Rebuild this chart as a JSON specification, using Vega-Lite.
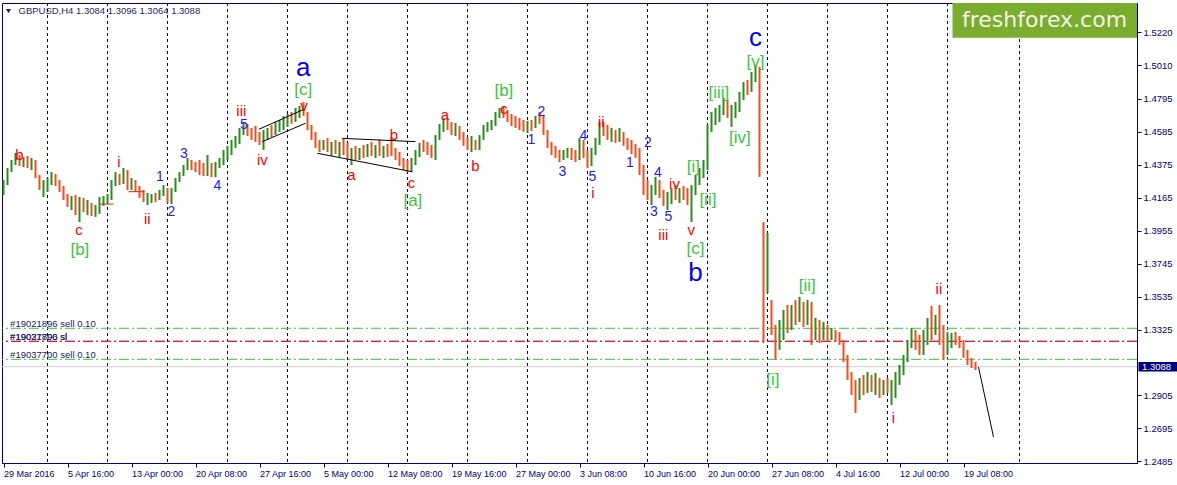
{
  "$schema": "https://vega.github.io/schema/vega-lite/v6.json",
  "width": 1135,
  "height": 460,
  "autosize": "none",
  "padding": {"left": 2, "top": 3, "right": 40, "bottom": 22},
  "background": "white",
  "config": {
    "view": {"stroke": "#000080", "strokeWidth": 1},
    "text": {"font": "Liberation Sans"},
    "axis": {"labelFont": "Liberation Sans"}
  },
  "resolve": {
    "scale": {"color": "independent", "strokeDash": "independent"},
    "axis": {"x": "independent", "y": "independent"}
  },
  "datasets": {
    "bars": [
      {"t":0,"o":1.4202,"h":1.4278,"l":1.4183,"c":1.4259},
      {"t":2,"o":1.4259,"h":1.4355,"l":1.4246,"c":1.4342},
      {"t":4,"o":1.4342,"h":1.4406,"l":1.4329,"c":1.4387},
      {"t":6,"o":1.4387,"h":1.4451,"l":1.4374,"c":1.4425},
      {"t":8,"o":1.4425,"h":1.4438,"l":1.4368,"c":1.4393},
      {"t":10,"o":1.4393,"h":1.4425,"l":1.4361,"c":1.4406},
      {"t":12,"o":1.4406,"h":1.4432,"l":1.4355,"c":1.4374},
      {"t":14,"o":1.4374,"h":1.4419,"l":1.4342,"c":1.4393},
      {"t":16,"o":1.4393,"h":1.4406,"l":1.4291,"c":1.4304},
      {"t":18,"o":1.4304,"h":1.4310,"l":1.4215,"c":1.4227},
      {"t":20,"o":1.4227,"h":1.4278,"l":1.4170,"c":1.4246},
      {"t":22,"o":1.4246,"h":1.4291,"l":1.4202,"c":1.4266},
      {"t":24,"o":1.4266,"h":1.4329,"l":1.4246,"c":1.4310},
      {"t":26,"o":1.4310,"h":1.4317,"l":1.4240,"c":1.4259},
      {"t":28,"o":1.4259,"h":1.4278,"l":1.4202,"c":1.4215},
      {"t":30,"o":1.4215,"h":1.4240,"l":1.4151,"c":1.4170},
      {"t":32,"o":1.4170,"h":1.4189,"l":1.4106,"c":1.4132},
      {"t":34,"o":1.4132,"h":1.4176,"l":1.4087,"c":1.4157},
      {"t":36,"o":1.4157,"h":1.4183,"l":1.4055,"c":1.4074},
      {"t":38,"o":1.4074,"h":1.4170,"l":1.4011,"c":1.4119},
      {"t":40,"o":1.4119,"h":1.4164,"l":1.4074,"c":1.4087},
      {"t":42,"o":1.4087,"h":1.4151,"l":1.4055,"c":1.4132},
      {"t":44,"o":1.4132,"h":1.4132,"l":1.4049,"c":1.4062},
      {"t":46,"o":1.4062,"h":1.4119,"l":1.4043,"c":1.4087},
      {"t":48,"o":1.4087,"h":1.4170,"l":1.4062,"c":1.4151},
      {"t":50,"o":1.4151,"h":1.4176,"l":1.4113,"c":1.4157},
      {"t":52,"o":1.4157,"h":1.4189,"l":1.4125,"c":1.4170},
      {"t":54,"o":1.4170,"h":1.4278,"l":1.4151,"c":1.4259},
      {"t":56,"o":1.4259,"h":1.4329,"l":1.4240,"c":1.4304},
      {"t":58,"o":1.4304,"h":1.4317,"l":1.4246,"c":1.4272},
      {"t":60,"o":1.4272,"h":1.4355,"l":1.4253,"c":1.4329},
      {"t":62,"o":1.4329,"h":1.4342,"l":1.4215,"c":1.4240},
      {"t":64,"o":1.4240,"h":1.4291,"l":1.4215,"c":1.4266},
      {"t":66,"o":1.4266,"h":1.4278,"l":1.4202,"c":1.4215},
      {"t":68,"o":1.4215,"h":1.4240,"l":1.4164,"c":1.4196},
      {"t":70,"o":1.4196,"h":1.4215,"l":1.4138,"c":1.4151},
      {"t":72,"o":1.4151,"h":1.4196,"l":1.4119,"c":1.4164},
      {"t":74,"o":1.4164,"h":1.4189,"l":1.4132,"c":1.4176},
      {"t":76,"o":1.4176,"h":1.4196,"l":1.4138,"c":1.4157},
      {"t":78,"o":1.4157,"h":1.4215,"l":1.4151,"c":1.4202},
      {"t":80,"o":1.4202,"h":1.4246,"l":1.4176,"c":1.4227},
      {"t":82,"o":1.4227,"h":1.4227,"l":1.4132,"c":1.4151},
      {"t":84,"o":1.4151,"h":1.4227,"l":1.4125,"c":1.4215},
      {"t":86,"o":1.4215,"h":1.4291,"l":1.4202,"c":1.4278},
      {"t":88,"o":1.4278,"h":1.4329,"l":1.4266,"c":1.4317},
      {"t":90,"o":1.4317,"h":1.4374,"l":1.4304,"c":1.4361},
      {"t":92,"o":1.4361,"h":1.4419,"l":1.4342,"c":1.4387},
      {"t":94,"o":1.4387,"h":1.4406,"l":1.4342,"c":1.4368},
      {"t":96,"o":1.4368,"h":1.4393,"l":1.4329,"c":1.4355},
      {"t":98,"o":1.4355,"h":1.4406,"l":1.4310,"c":1.4342},
      {"t":100,"o":1.4342,"h":1.4387,"l":1.4304,"c":1.4323},
      {"t":102,"o":1.4323,"h":1.4438,"l":1.4304,"c":1.4342},
      {"t":104,"o":1.4342,"h":1.4387,"l":1.4297,"c":1.4310},
      {"t":106,"o":1.4310,"h":1.4393,"l":1.4297,"c":1.4374},
      {"t":108,"o":1.4374,"h":1.4419,"l":1.4355,"c":1.4406},
      {"t":110,"o":1.4406,"h":1.4470,"l":1.4374,"c":1.4438},
      {"t":112,"o":1.4438,"h":1.4496,"l":1.4406,"c":1.4470},
      {"t":114,"o":1.4470,"h":1.4534,"l":1.4438,"c":1.4515},
      {"t":116,"o":1.4515,"h":1.4559,"l":1.4483,"c":1.4534},
      {"t":118,"o":1.4534,"h":1.4610,"l":1.4508,"c":1.4585},
      {"t":120,"o":1.4585,"h":1.4648,"l":1.4565,"c":1.4623},
      {"t":122,"o":1.4623,"h":1.4636,"l":1.4559,"c":1.4585},
      {"t":124,"o":1.4585,"h":1.4610,"l":1.4534,"c":1.4572},
      {"t":126,"o":1.4572,"h":1.4623,"l":1.4521,"c":1.4546},
      {"t":128,"o":1.4546,"h":1.4585,"l":1.4502,"c":1.4534},
      {"t":130,"o":1.4534,"h":1.4597,"l":1.4470,"c":1.4565},
      {"t":132,"o":1.4565,"h":1.4610,"l":1.4534,"c":1.4597},
      {"t":134,"o":1.4597,"h":1.4629,"l":1.4553,"c":1.4578},
      {"t":136,"o":1.4578,"h":1.4648,"l":1.4565,"c":1.4623},
      {"t":138,"o":1.4623,"h":1.4661,"l":1.4585,"c":1.4636},
      {"t":140,"o":1.4636,"h":1.4687,"l":1.4597,"c":1.4661},
      {"t":142,"o":1.4661,"h":1.4699,"l":1.4617,"c":1.4674},
      {"t":144,"o":1.4674,"h":1.4712,"l":1.4636,"c":1.4661},
      {"t":146,"o":1.4661,"h":1.4738,"l":1.4648,"c":1.4712},
      {"t":148,"o":1.4712,"h":1.4750,"l":1.4674,"c":1.4725},
      {"t":150,"o":1.4725,"h":1.4776,"l":1.4687,"c":1.4699},
      {"t":152,"o":1.4699,"h":1.4712,"l":1.4597,"c":1.4617},
      {"t":154,"o":1.4617,"h":1.4629,"l":1.4534,"c":1.4553},
      {"t":156,"o":1.4553,"h":1.4585,"l":1.4483,"c":1.4502},
      {"t":158,"o":1.4502,"h":1.4534,"l":1.4457,"c":1.4483},
      {"t":160,"o":1.4483,"h":1.4534,"l":1.4470,"c":1.4515},
      {"t":162,"o":1.4515,"h":1.4546,"l":1.4457,"c":1.4470},
      {"t":164,"o":1.4470,"h":1.4521,"l":1.4432,"c":1.4496},
      {"t":166,"o":1.4496,"h":1.4534,"l":1.4444,"c":1.4464},
      {"t":168,"o":1.4464,"h":1.4521,"l":1.4425,"c":1.4483},
      {"t":170,"o":1.4483,"h":1.4546,"l":1.4438,"c":1.4457},
      {"t":172,"o":1.4457,"h":1.4515,"l":1.4406,"c":1.4432},
      {"t":174,"o":1.4432,"h":1.4483,"l":1.4374,"c":1.4457},
      {"t":176,"o":1.4457,"h":1.4496,"l":1.4406,"c":1.4425},
      {"t":178,"o":1.4425,"h":1.4483,"l":1.4406,"c":1.4470},
      {"t":180,"o":1.4470,"h":1.4502,"l":1.4419,"c":1.4438},
      {"t":182,"o":1.4438,"h":1.4508,"l":1.4425,"c":1.4483},
      {"t":184,"o":1.4483,"h":1.4521,"l":1.4432,"c":1.4457},
      {"t":186,"o":1.4457,"h":1.4502,"l":1.4419,"c":1.4470},
      {"t":188,"o":1.4470,"h":1.4534,"l":1.4432,"c":1.4451},
      {"t":190,"o":1.4451,"h":1.4496,"l":1.4419,"c":1.4476},
      {"t":192,"o":1.4476,"h":1.4508,"l":1.4425,"c":1.4457},
      {"t":194,"o":1.4457,"h":1.4553,"l":1.4432,"c":1.4444},
      {"t":196,"o":1.4444,"h":1.4483,"l":1.4406,"c":1.4419},
      {"t":198,"o":1.4419,"h":1.4457,"l":1.4368,"c":1.4387},
      {"t":200,"o":1.4387,"h":1.4419,"l":1.4342,"c":1.4368},
      {"t":202,"o":1.4368,"h":1.4406,"l":1.4329,"c":1.4349},
      {"t":204,"o":1.4349,"h":1.4419,"l":1.4329,"c":1.4406},
      {"t":206,"o":1.4406,"h":1.4470,"l":1.4374,"c":1.4451},
      {"t":208,"o":1.4451,"h":1.4515,"l":1.4425,"c":1.4496},
      {"t":210,"o":1.4496,"h":1.4534,"l":1.4457,"c":1.4483},
      {"t":212,"o":1.4483,"h":1.4521,"l":1.4438,"c":1.4470},
      {"t":214,"o":1.4470,"h":1.4502,"l":1.4419,"c":1.4444},
      {"t":216,"o":1.4444,"h":1.4565,"l":1.4406,"c":1.4546},
      {"t":218,"o":1.4546,"h":1.4636,"l":1.4534,"c":1.4610},
      {"t":220,"o":1.4610,"h":1.4674,"l":1.4585,"c":1.4648},
      {"t":222,"o":1.4648,"h":1.4674,"l":1.4597,"c":1.4623},
      {"t":224,"o":1.4623,"h":1.4648,"l":1.4565,"c":1.4597},
      {"t":226,"o":1.4597,"h":1.4642,"l":1.4559,"c":1.4610},
      {"t":228,"o":1.4610,"h":1.4623,"l":1.4534,"c":1.4559},
      {"t":230,"o":1.4559,"h":1.4585,"l":1.4496,"c":1.4521},
      {"t":232,"o":1.4521,"h":1.4546,"l":1.4470,"c":1.4496},
      {"t":234,"o":1.4496,"h":1.4559,"l":1.4457,"c":1.4508},
      {"t":236,"o":1.4508,"h":1.4534,"l":1.4470,"c":1.4489},
      {"t":238,"o":1.4489,"h":1.4565,"l":1.4470,"c":1.4546},
      {"t":240,"o":1.4546,"h":1.4629,"l":1.4534,"c":1.4610},
      {"t":242,"o":1.4610,"h":1.4648,"l":1.4585,"c":1.4623},
      {"t":244,"o":1.4623,"h":1.4661,"l":1.4597,"c":1.4636},
      {"t":246,"o":1.4636,"h":1.4712,"l":1.4623,"c":1.4693},
      {"t":248,"o":1.4693,"h":1.4738,"l":1.4674,"c":1.4712},
      {"t":250,"o":1.4712,"h":1.4750,"l":1.4674,"c":1.4699},
      {"t":252,"o":1.4699,"h":1.4725,"l":1.4648,"c":1.4674},
      {"t":254,"o":1.4674,"h":1.4699,"l":1.4623,"c":1.4661},
      {"t":256,"o":1.4661,"h":1.4687,"l":1.4610,"c":1.4636},
      {"t":258,"o":1.4636,"h":1.4674,"l":1.4597,"c":1.4623},
      {"t":260,"o":1.4623,"h":1.4661,"l":1.4585,"c":1.4610},
      {"t":262,"o":1.4610,"h":1.4655,"l":1.4578,"c":1.4629},
      {"t":264,"o":1.4629,"h":1.4661,"l":1.4591,"c":1.4610},
      {"t":266,"o":1.4610,"h":1.4687,"l":1.4610,"c":1.4674},
      {"t":268,"o":1.4674,"h":1.4712,"l":1.4636,"c":1.4661},
      {"t":270,"o":1.4661,"h":1.4693,"l":1.4565,"c":1.4585},
      {"t":272,"o":1.4585,"h":1.4597,"l":1.4483,"c":1.4502},
      {"t":274,"o":1.4502,"h":1.4521,"l":1.4438,"c":1.4470},
      {"t":276,"o":1.4470,"h":1.4496,"l":1.4419,"c":1.4438},
      {"t":278,"o":1.4438,"h":1.4470,"l":1.4393,"c":1.4425},
      {"t":280,"o":1.4425,"h":1.4470,"l":1.4406,"c":1.4451},
      {"t":282,"o":1.4451,"h":1.4483,"l":1.4419,"c":1.4457},
      {"t":284,"o":1.4457,"h":1.4483,"l":1.4406,"c":1.4432},
      {"t":286,"o":1.4432,"h":1.4470,"l":1.4393,"c":1.4419},
      {"t":288,"o":1.4419,"h":1.4546,"l":1.4406,"c":1.4502},
      {"t":290,"o":1.4502,"h":1.4534,"l":1.4419,"c":1.4438},
      {"t":292,"o":1.4438,"h":1.4470,"l":1.4355,"c":1.4406},
      {"t":294,"o":1.4406,"h":1.4483,"l":1.4368,"c":1.4457},
      {"t":296,"o":1.4457,"h":1.4546,"l":1.4438,"c":1.4521},
      {"t":298,"o":1.4521,"h":1.4648,"l":1.4502,"c":1.4610},
      {"t":300,"o":1.4610,"h":1.4648,"l":1.4559,"c":1.4597},
      {"t":302,"o":1.4597,"h":1.4629,"l":1.4534,"c":1.4559},
      {"t":304,"o":1.4559,"h":1.4610,"l":1.4521,"c":1.4572},
      {"t":306,"o":1.4572,"h":1.4597,"l":1.4515,"c":1.4546},
      {"t":308,"o":1.4546,"h":1.4610,"l":1.4521,"c":1.4578},
      {"t":310,"o":1.4578,"h":1.4585,"l":1.4496,"c":1.4515},
      {"t":312,"o":1.4515,"h":1.4546,"l":1.4470,"c":1.4496},
      {"t":314,"o":1.4496,"h":1.4534,"l":1.4444,"c":1.4470},
      {"t":316,"o":1.4470,"h":1.4508,"l":1.4419,"c":1.4444},
      {"t":318,"o":1.4444,"h":1.4483,"l":1.4310,"c":1.4342},
      {"t":320,"o":1.4342,"h":1.4374,"l":1.4183,"c":1.4215},
      {"t":322,"o":1.4215,"h":1.4278,"l":1.4151,"c":1.4183},
      {"t":324,"o":1.4183,"h":1.4246,"l":1.4119,"c":1.4215},
      {"t":326,"o":1.4215,"h":1.4298,"l":1.4183,"c":1.4253},
      {"t":328,"o":1.4253,"h":1.4278,"l":1.4164,"c":1.4183},
      {"t":330,"o":1.4183,"h":1.4215,"l":1.4113,"c":1.4151},
      {"t":332,"o":1.4151,"h":1.4202,"l":1.4087,"c":1.4176},
      {"t":334,"o":1.4176,"h":1.4227,"l":1.4125,"c":1.4202},
      {"t":336,"o":1.4202,"h":1.4246,"l":1.4151,"c":1.4183},
      {"t":338,"o":1.4183,"h":1.4227,"l":1.4132,"c":1.4215},
      {"t":340,"o":1.4215,"h":1.4240,"l":1.4151,"c":1.4189},
      {"t":342,"o":1.4189,"h":1.4227,"l":1.4119,"c":1.4164},
      {"t":344,"o":1.4164,"h":1.4246,"l":1.4011,"c":1.4215},
      {"t":346,"o":1.4215,"h":1.4310,"l":1.4183,"c":1.4278},
      {"t":348,"o":1.4278,"h":1.4355,"l":1.4246,"c":1.4329},
      {"t":350,"o":1.4329,"h":1.4406,"l":1.4291,"c":1.4374},
      {"t":352,"o":1.4374,"h":1.4629,"l":1.4342,"c":1.4597},
      {"t":354,"o":1.4597,"h":1.4712,"l":1.4585,"c":1.4674},
      {"t":356,"o":1.4674,"h":1.4738,"l":1.4629,"c":1.4693},
      {"t":358,"o":1.4693,"h":1.4757,"l":1.4648,"c":1.4725},
      {"t":360,"o":1.4725,"h":1.4801,"l":1.4693,"c":1.4763},
      {"t":362,"o":1.4763,"h":1.4788,"l":1.4674,"c":1.4693},
      {"t":364,"o":1.4693,"h":1.4757,"l":1.4617,"c":1.4725},
      {"t":366,"o":1.4725,"h":1.4776,"l":1.4674,"c":1.4750},
      {"t":368,"o":1.4750,"h":1.4840,"l":1.4712,"c":1.4820},
      {"t":370,"o":1.4820,"h":1.4903,"l":1.4788,"c":1.4865},
      {"t":372,"o":1.4865,"h":1.4916,"l":1.4820,"c":1.4852},
      {"t":374,"o":1.4852,"h":1.4967,"l":1.4840,"c":1.4929},
      {"t":376,"o":1.4929,"h":1.5012,"l":1.4903,"c":1.4967},
      {"t":378,"o":1.4967,"h":1.5000,"l":1.4298,"c":1.4310},
      {"t":380,"o":1.3991,"h":1.4011,"l":1.3239,"c":1.3450},
      {"t":382,"o":1.3620,"h":1.3941,"l":1.3558,"c":1.3800},
      {"t":384,"o":1.3468,"h":1.3513,"l":1.3290,"c":1.3335},
      {"t":386,"o":1.3335,"h":1.3354,"l":1.3131,"c":1.3195},
      {"t":388,"o":1.3195,"h":1.3386,"l":1.3195,"c":1.3354},
      {"t":390,"o":1.3354,"h":1.3450,"l":1.3258,"c":1.3399},
      {"t":392,"o":1.3399,"h":1.3482,"l":1.3303,"c":1.3354},
      {"t":394,"o":1.3354,"h":1.3482,"l":1.3322,"c":1.3450},
      {"t":396,"o":1.3450,"h":1.3513,"l":1.3354,"c":1.3418},
      {"t":398,"o":1.3418,"h":1.3533,"l":1.3373,"c":1.3482},
      {"t":400,"o":1.3482,"h":1.3501,"l":1.3341,"c":1.3399},
      {"t":402,"o":1.3399,"h":1.3513,"l":1.3354,"c":1.3463},
      {"t":404,"o":1.3463,"h":1.3501,"l":1.3227,"c":1.3258},
      {"t":406,"o":1.3258,"h":1.3399,"l":1.3258,"c":1.3354},
      {"t":408,"o":1.3354,"h":1.3386,"l":1.3239,"c":1.3290},
      {"t":410,"o":1.3290,"h":1.3373,"l":1.3258,"c":1.3335},
      {"t":412,"o":1.3335,"h":1.3354,"l":1.3246,"c":1.3290},
      {"t":414,"o":1.3290,"h":1.3335,"l":1.3258,"c":1.3309},
      {"t":416,"o":1.3309,"h":1.3322,"l":1.3246,"c":1.3271},
      {"t":418,"o":1.3271,"h":1.3309,"l":1.3227,"c":1.3246},
      {"t":420,"o":1.3246,"h":1.3258,"l":1.3118,"c":1.3144},
      {"t":422,"o":1.3144,"h":1.3163,"l":1.3003,"c":1.3035},
      {"t":424,"o":1.3035,"h":1.3054,"l":1.2908,"c":1.2972},
      {"t":426,"o":1.2972,"h":1.3003,"l":1.2793,"c":1.2908},
      {"t":428,"o":1.2908,"h":1.3016,"l":1.2876,"c":1.2972},
      {"t":430,"o":1.2972,"h":1.3035,"l":1.2908,"c":1.2940},
      {"t":432,"o":1.2940,"h":1.3054,"l":1.2921,"c":1.3003},
      {"t":434,"o":1.3003,"h":1.3035,"l":1.2927,"c":1.2965},
      {"t":436,"o":1.2965,"h":1.3048,"l":1.2908,"c":1.2984},
      {"t":438,"o":1.2984,"h":1.3016,"l":1.2889,"c":1.2940},
      {"t":440,"o":1.2940,"h":1.3003,"l":1.2908,"c":1.2972},
      {"t":442,"o":1.2972,"h":1.3016,"l":1.2921,"c":1.2940},
      {"t":444,"o":1.2940,"h":1.3003,"l":1.2844,"c":1.2972},
      {"t":446,"o":1.2972,"h":1.3054,"l":1.2889,"c":1.3016},
      {"t":448,"o":1.3016,"h":1.3099,"l":1.2972,"c":1.3067},
      {"t":450,"o":1.3067,"h":1.3163,"l":1.3035,"c":1.3131},
      {"t":452,"o":1.3131,"h":1.3258,"l":1.3118,"c":1.3227},
      {"t":454,"o":1.3227,"h":1.3335,"l":1.3207,"c":1.3290},
      {"t":456,"o":1.3290,"h":1.3322,"l":1.3195,"c":1.3227},
      {"t":458,"o":1.3227,"h":1.3290,"l":1.3163,"c":1.3163},
      {"t":460,"o":1.3163,"h":1.3322,"l":1.3163,"c":1.3290},
      {"t":462,"o":1.3290,"h":1.3399,"l":1.3227,"c":1.3373},
      {"t":464,"o":1.3373,"h":1.3476,"l":1.3258,"c":1.3354},
      {"t":466,"o":1.3354,"h":1.3418,"l":1.3290,"c":1.3386},
      {"t":468,"o":1.3386,"h":1.3482,"l":1.3227,"c":1.3322},
      {"t":470,"o":1.3322,"h":1.3354,"l":1.3131,"c":1.3195},
      {"t":472,"o":1.3195,"h":1.3309,"l":1.3163,"c":1.3258},
      {"t":474,"o":1.3258,"h":1.3303,"l":1.3207,"c":1.3271},
      {"t":476,"o":1.3271,"h":1.3309,"l":1.3227,"c":1.3246},
      {"t":478,"o":1.3246,"h":1.3284,"l":1.3207,"c":1.3227},
      {"t":480,"o":1.3227,"h":1.3258,"l":1.3144,"c":1.3163},
      {"t":482,"o":1.3163,"h":1.3195,"l":1.3099,"c":1.3118},
      {"t":484,"o":1.3118,"h":1.3144,"l":1.3080,"c":1.3093},
      {"t":486,"o":1.3093,"h":1.3118,"l":1.3067,"c":1.3088}
    ],
    "labels": [
      {"s":"b","t":8,"p":1.4438,"g":"minor"},
      {"s":"c","t":37.8,"p":1.3960,"g":"minor"},
      {"s":"i","t":57.7,"p":1.4395,"g":"minor"},
      {"s":"ii","t":71.9,"p":1.4028,"g":"minor"},
      {"s":"iii","t":118.9,"p":1.4720,"g":"minor"},
      {"s":"iv","t":129.4,"p":1.4406,"g":"minor"},
      {"s":"v","t":150.2,"p":1.4750,"g":"minor"},
      {"s":"a","t":173.9,"p":1.4310,"g":"minor"},
      {"s":"b","t":195.2,"p":1.4565,"g":"minor"},
      {"s":"c","t":204,"p":1.4261,"g":"minor"},
      {"s":"a","t":220.7,"p":1.4693,"g":"minor"},
      {"s":"b","t":236,"p":1.4368,"g":"minor"},
      {"s":"c","t":250.2,"p":1.4730,"g":"minor"},
      {"s":"i","t":294.7,"p":1.4194,"g":"minor"},
      {"s":"ii","t":298.9,"p":1.4650,"g":"minor"},
      {"s":"iii","t":329.9,"p":1.3930,"g":"minor"},
      {"s":"iv","t":335.5,"p":1.4251,"g":"minor"},
      {"s":"v","t":343.9,"p":1.3958,"g":"minor"},
      {"s":"i","t":444.9,"p":1.2759,"g":"minor"},
      {"s":"ii","t":467.7,"p":1.3584,"g":"minor"},
      {"s":"1","t":78.2,"p":1.4296,"g":"count"},
      {"s":"2","t":84,"p":1.4076,"g":"count"},
      {"s":"3","t":90.2,"p":1.4442,"g":"count"},
      {"s":"4","t":106.9,"p":1.4240,"g":"count"},
      {"s":"5","t":120.2,"p":1.4626,"g":"count"},
      {"s":"1","t":264,"p":1.4533,"g":"count"},
      {"s":"2","t":269,"p":1.4714,"g":"count"},
      {"s":"3","t":279.4,"p":1.4331,"g":"count"},
      {"s":"4","t":289.9,"p":1.4559,"g":"count"},
      {"s":"5","t":294.4,"p":1.4296,"g":"count"},
      {"s":"1","t":313.2,"p":1.4385,"g":"count"},
      {"s":"2","t":322.2,"p":1.4512,"g":"count"},
      {"s":"3","t":325.2,"p":1.4076,"g":"count"},
      {"s":"4","t":327.2,"p":1.4325,"g":"count"},
      {"s":"5","t":332.4,"p":1.4040,"g":"count"},
      {"s":"a","t":149.9,"p":1.4995,"g":"major"},
      {"s":"b","t":346,"p":1.3685,"g":"major"},
      {"s":"c","t":376,"p":1.5182,"g":"major"},
      {"s":"[b]","t":38.2,"p":1.3832,"g":"bracket"},
      {"s":"[c]","t":149.9,"p":1.4852,"g":"bracket"},
      {"s":"[a]","t":204.7,"p":1.4147,"g":"bracket"},
      {"s":"[b]","t":250.2,"p":1.4848,"g":"bracket"},
      {"s":"[i]","t":344.9,"p":1.4363,"g":"bracket"},
      {"s":"[ii]","t":352.2,"p":1.4151,"g":"bracket"},
      {"s":"[c]","t":346,"p":1.3838,"g":"bracket"},
      {"s":"[iii]","t":357.7,"p":1.4831,"g":"bracket"},
      {"s":"[iv]","t":368.2,"p":1.4544,"g":"bracket"},
      {"s":"[v]","t":376,"p":1.5033,"g":"bracket"},
      {"s":"[i]","t":384.7,"p":1.3003,"g":"bracket"},
      {"s":"[ii]","t":401.9,"p":1.3605,"g":"bracket"}
    ],
    "lines": [
      {"id":"ch1","t":127.7,"p":1.4602,"kind":"trend"},
      {"id":"ch1","t":150.2,"p":1.4729,"kind":"trend"},
      {"id":"ch2","t":129.4,"p":1.4523,"kind":"trend"},
      {"id":"ch2","t":151,"p":1.4640,"kind":"trend"},
      {"id":"wd1","t":169.4,"p":1.4544,"kind":"trend"},
      {"id":"wd1","t":206,"p":1.4523,"kind":"trend"},
      {"id":"wd2","t":156.9,"p":1.4449,"kind":"trend"},
      {"id":"wd2","t":204.4,"p":1.4331,"kind":"trend"},
      {"id":"fc","t":487.5,"p":1.3086,"kind":"trend"},
      {"id":"fc","t":495,"p":1.2640,"kind":"trend"},
      {"id":"m1","t":48.5,"p":1.4125,"kind":"mark"},
      {"id":"m1","t":55,"p":1.4125,"kind":"mark"},
      {"id":"m2","t":62.5,"p":1.4204,"kind":"mark"},
      {"id":"m2","t":70.5,"p":1.4204,"kind":"mark"}
    ],
    "orders": [
      {"id":"#19021896 sell 0.10","p":1.3333,"kind":"sell"},
      {"id":"#19021896 sl","p":1.3250,"kind":"sl"},
      {"id":"#19037700 sl","p":1.3250,"kind":"sl"},
      {"id":"#19037700 sell 0.10","p":1.3135,"kind":"sell"}
    ],
    "grid": [
      {"t":22},{"t":52},{"t":82},{"t":112},{"t":142},{"t":172},{"t":202},{"t":232},{"t":262},
      {"t":292},{"t":322},{"t":352},{"t":382},{"t":412},{"t":442},{"t":472},{"t":508}
    ],
    "info": [
      {"symbol":"GBPUSD,H4 1.3084 1.3096 1.3064 1.3088","brand":"freshforex.com","last":"1.3088"}
    ]
  },
  "layer": [
    {
      "data": {"name": "grid"},
      "mark": {"type": "rule", "color": "#000080", "strokeDash": [3, 3], "strokeWidth": 1},
      "encoding": {
        "x": {
          "field": "t", "type": "quantitative",
          "scale": {"domain": [-0.75, 566.75], "nice": false, "zero": false},
          "axis": {
            "orient": "bottom",
            "values": [0, 32, 64, 96, 128, 160, 192, 224, 256, 288, 320, 352, 384, 416, 448, 480],
            "labelExpr": "datum.value == 0 ? '29 Mar 2016' : datum.value == 32 ? '5 Apr 16:00' : datum.value == 64 ? '13 Apr 00:00' : datum.value == 96 ? '20 Apr 08:00' : datum.value == 128 ? '27 Apr 16:00' : datum.value == 160 ? '5 May 00:00' : datum.value == 192 ? '12 May 08:00' : datum.value == 224 ? '19 May 16:00' : datum.value == 256 ? '27 May 00:00' : datum.value == 288 ? '3 Jun 08:00' : datum.value == 320 ? '10 Jun 16:00' : datum.value == 352 ? '20 Jun 00:00' : datum.value == 384 ? '27 Jun 08:00' : datum.value == 416 ? '4 Jul 16:00' : datum.value == 448 ? '12 Jul 00:00' : '19 Jul 08:00'",
            "labelAlign": "left",
            "labelPadding": 2,
            "labelFontSize": 9,
            "labelColor": "#000080",
            "labelOverlap": false,
            "labelFlush": false,
            "grid": false,
            "title": null,
            "domainColor": "#000080",
            "tickColor": "#000080",
            "tickSize": 4
          }
        }
      }
    },
    {
      "data": {"name": "orders"},
      "mark": {"type": "rule", "strokeWidth": 1},
      "encoding": {
        "y": {
          "field": "p", "type": "quantitative",
          "scale": {"domain": [1.2474, 1.5407], "nice": false, "zero": false},
          "axis": {
            "orient": "right",
            "values": [1.2485, 1.2695, 1.2905, 1.3325, 1.3535, 1.3745, 1.3955, 1.4165, 1.4375, 1.4585, 1.4795, 1.501, 1.522],
            "format": ".4f",
            "labelFontSize": 9.5,
            "labelColor": "#000080",
            "labelPadding": 2,
            "grid": false,
            "title": null,
            "domainColor": "#000080",
            "tickColor": "#000080",
            "tickSize": 4
          }
        },
        "color": {"field": "kind", "type": "nominal", "scale": {"domain": ["sell", "sl"], "range": ["#2ecc2e", "#d01c3c"]}, "legend": null},
        "strokeDash": {"field": "kind", "type": "nominal", "scale": {"domain": ["sell", "sl"], "range": [[10, 3, 2, 3], [10, 3, 2, 3]]}, "legend": null}
      }
    },
    {
      "data": {"name": "info"},
      "mark": {"type": "rule", "color": "#cfcfcf", "strokeWidth": 1},
      "encoding": {
        "y": {"datum": 1.3088, "type": "quantitative", "scale": {"domain": [1.2474, 1.5407], "nice": false, "zero": false}, "axis": null}
      }
    },
    {
      "data": {"name": "info"},
      "mark": {"type": "rect", "color": "#7aad2e"},
      "encoding": {
        "x": {"datum": 474.5, "type": "quantitative", "scale": {"domain": [-0.75, 566.75], "nice": false, "zero": false}, "axis": null},
        "x2": {"datum": 566.75},
        "y": {"datum": 1.5407, "type": "quantitative", "scale": {"domain": [1.2474, 1.5407], "nice": false, "zero": false}, "axis": null},
        "y2": {"datum": 1.5186}
      }
    },
    {
      "data": {"name": "bars"},
      "mark": {"type": "rule", "strokeWidth": 2, "opacity": 1},
      "encoding": {
        "x": {"field": "t", "type": "quantitative", "scale": {"domain": [-0.75, 566.75], "nice": false, "zero": false}, "axis": null},
        "y": {"field": "l", "type": "quantitative", "scale": {"domain": [1.2474, 1.5407], "nice": false, "zero": false}, "axis": null},
        "y2": {"field": "h"},
        "color": {"condition": {"test": "datum.c >= datum.o", "value": "#2f8a24"}, "value": "#f04e1e"}
      }
    },
    {
      "data": {"name": "lines"},
      "mark": {"type": "line", "strokeWidth": 1},
      "encoding": {
        "x": {"field": "t", "type": "quantitative", "scale": {"domain": [-0.75, 566.75], "nice": false, "zero": false}, "axis": null},
        "y": {"field": "p", "type": "quantitative", "scale": {"domain": [1.2474, 1.5407], "nice": false, "zero": false}, "axis": null},
        "detail": {"field": "id"},
        "color": {"field": "kind", "type": "nominal", "scale": {"domain": ["trend", "mark"], "range": ["#000000", "#e8201a"]}, "legend": null}
      }
    },
    {
      "data": {"name": "labels"},
      "transform": [{"filter": "datum.g === 'minor'"}],
      "mark": {"type": "text", "fontSize": 15, "color": "#ff0000", "align": "center", "baseline": "middle"},
      "encoding": {
        "x": {"field": "t", "type": "quantitative", "scale": {"domain": [-0.75, 566.75], "nice": false, "zero": false}, "axis": null},
        "y": {"field": "p", "type": "quantitative", "scale": {"domain": [1.2474, 1.5407], "nice": false, "zero": false}, "axis": null},
        "text": {"field": "s"}
      }
    },
    {
      "data": {"name": "labels"},
      "transform": [{"filter": "datum.g === 'count'"}],
      "mark": {"type": "text", "fontSize": 14, "color": "#1a1aff", "align": "center", "baseline": "middle"},
      "encoding": {
        "x": {"field": "t", "type": "quantitative", "scale": {"domain": [-0.75, 566.75], "nice": false, "zero": false}, "axis": null},
        "y": {"field": "p", "type": "quantitative", "scale": {"domain": [1.2474, 1.5407], "nice": false, "zero": false}, "axis": null},
        "text": {"field": "s"}
      }
    },
    {
      "data": {"name": "labels"},
      "transform": [{"filter": "datum.g === 'major'"}],
      "mark": {"type": "text", "fontSize": 26, "color": "#0000ff", "align": "center", "baseline": "middle"},
      "encoding": {
        "x": {"field": "t", "type": "quantitative", "scale": {"domain": [-0.75, 566.75], "nice": false, "zero": false}, "axis": null},
        "y": {"field": "p", "type": "quantitative", "scale": {"domain": [1.2474, 1.5407], "nice": false, "zero": false}, "axis": null},
        "text": {"field": "s"}
      }
    },
    {
      "data": {"name": "labels"},
      "transform": [{"filter": "datum.g === 'bracket'"}],
      "mark": {"type": "text", "fontSize": 17, "color": "#3cc43c", "align": "center", "baseline": "middle"},
      "encoding": {
        "x": {"field": "t", "type": "quantitative", "scale": {"domain": [-0.75, 566.75], "nice": false, "zero": false}, "axis": null},
        "y": {"field": "p", "type": "quantitative", "scale": {"domain": [1.2474, 1.5407], "nice": false, "zero": false}, "axis": null},
        "text": {"field": "s"}
      }
    },
    {
      "data": {"name": "orders"},
      "mark": {"type": "text", "fontSize": 9.5, "color": "#22225e", "align": "left", "baseline": "bottom", "dy": 1},
      "encoding": {
        "x": {"datum": 3.3, "type": "quantitative", "scale": {"domain": [-0.75, 566.75], "nice": false, "zero": false}, "axis": null},
        "y": {"field": "p", "type": "quantitative", "scale": {"domain": [1.2474, 1.5407], "nice": false, "zero": false}, "axis": null},
        "text": {"field": "id"}
      }
    },
    {
      "data": {"name": "info"},
      "mark": {"type": "text", "fontSize": 22, "font": "DejaVu Sans", "color": "#f4f4e8", "align": "center", "baseline": "middle"},
      "encoding": {
        "x": {"datum": 520.5, "type": "quantitative", "scale": {"domain": [-0.75, 566.75], "nice": false, "zero": false}, "axis": null},
        "y": {"datum": 1.5298, "type": "quantitative", "scale": {"domain": [1.2474, 1.5407], "nice": false, "zero": false}, "axis": null},
        "text": {"field": "brand"}
      }
    },
    {
      "data": {"name": "info"},
      "mark": {"type": "text", "fontSize": 9.5, "color": "#1e1e6e", "align": "left", "baseline": "middle"},
      "encoding": {
        "x": {"datum": 7.5, "type": "quantitative", "scale": {"domain": [-0.75, 566.75], "nice": false, "zero": false}, "axis": null},
        "y": {"datum": 1.5353, "type": "quantitative", "scale": {"domain": [1.2474, 1.5407], "nice": false, "zero": false}, "axis": null},
        "text": {"field": "symbol"}
      }
    },
    {
      "data": {"name": "info"},
      "mark": {"type": "point", "shape": "triangle-down", "filled": true, "size": 26, "color": "#1e1e6e", "opacity": 1},
      "encoding": {
        "x": {"datum": 2.5, "type": "quantitative", "scale": {"domain": [-0.75, 566.75], "nice": false, "zero": false}, "axis": null},
        "y": {"datum": 1.5355, "type": "quantitative", "scale": {"domain": [1.2474, 1.5407], "nice": false, "zero": false}, "axis": null}
      }
    },
    {
      "data": {"name": "info"},
      "mark": {"type": "rect", "color": "#000080"},
      "encoding": {
        "x": {"datum": 567.5, "type": "quantitative", "scale": {"domain": [-0.75, 566.75], "nice": false, "zero": false}, "axis": null},
        "x2": {"datum": 588},
        "y": {"datum": 1.3118, "type": "quantitative", "scale": {"domain": [1.2474, 1.5407], "nice": false, "zero": false}, "axis": null},
        "y2": {"datum": 1.3058}
      }
    },
    {
      "data": {"name": "info"},
      "mark": {"type": "text", "fontSize": 9.5, "color": "#ffffff", "align": "left", "baseline": "middle"},
      "encoding": {
        "x": {"datum": 569.3, "type": "quantitative", "scale": {"domain": [-0.75, 566.75], "nice": false, "zero": false}, "axis": null},
        "y": {"datum": 1.3088, "type": "quantitative", "scale": {"domain": [1.2474, 1.5407], "nice": false, "zero": false}, "axis": null},
        "text": {"field": "last"}
      }
    }
  ]
}
